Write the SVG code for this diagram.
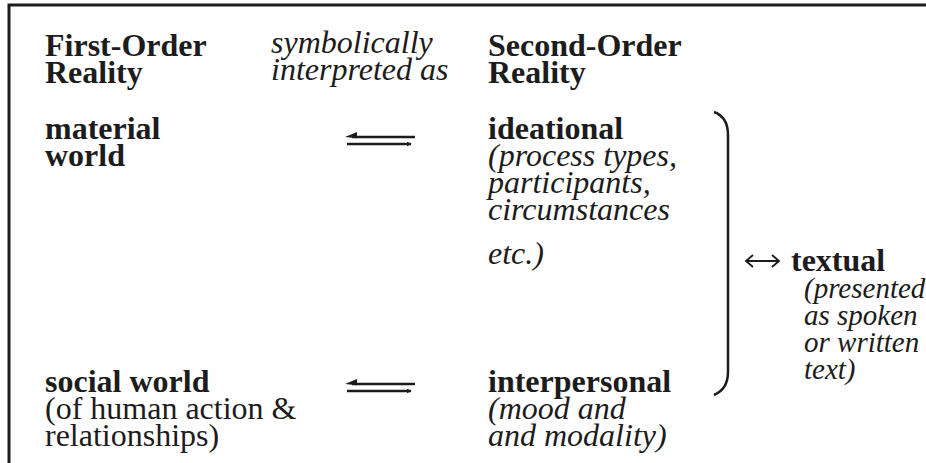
<svg xmlns="http://www.w3.org/2000/svg" width="926" height="463" viewBox="0 0 926 463">
<style>
text{font-family:"Liberation Serif","Times New Roman",serif;font-size:32px;fill:#1c1c1c}
.b{font-weight:bold}
.i{font-style:italic}
.s{font-size:29px}
.ln{stroke:#1c1c1c;fill:none}
</style>
<defs>
<marker id="ah" viewBox="0 0 10 10" refX="9" refY="5" markerWidth="5" markerHeight="5" orient="auto-start-reverse" markerUnits="userSpaceOnUse">
<path d="M0,0 L10,5 L0,10 z" fill="#1c1c1c"/>
</marker>
</defs>
<rect width="926" height="463" fill="#fff"/>
<g id="frame">
<path class="ln" d="M9,463 V5 H926" stroke-width="3"/>
</g>
<g id="headers">
<text class="b" x="45" y="56">First-Order</text>
<text class="b" x="45" y="83">Reality</text>
<text class="i" x="271" y="53">symbolically</text>
<text class="i" x="271" y="80">interpreted as</text>
<text class="b" x="488" y="56">Second-Order</text>
<text class="b" x="488" y="83">Reality</text>
</g>
<g id="material">
<text class="b" x="45" y="139">material</text>
<text class="b" x="45" y="166">world</text>
</g>
<g id="ideational">
<text class="b" x="488" y="139">ideational</text>
<text class="i" x="488" y="166">(process types,</text>
<text class="i" x="488" y="193">participants,</text>
<text class="i" x="488" y="220">circumstances</text>
<text class="i" x="488" y="264">etc.)</text>
</g>
<g id="social">
<text class="b" x="45" y="392">social world</text>
<text x="45" y="419">(of human action &amp;</text>
<text x="45" y="446">relationships)</text>
</g>
<g id="interpersonal">
<text class="b" x="488" y="392">interpersonal</text>
<text class="i" x="488" y="419">(mood and</text>
<text class="i" x="488" y="446">and modality)</text>
</g>
<g id="textual">
<text class="b" x="791" y="271">textual</text>
<text class="i s" x="804" y="298">(presented</text>
<text class="i s" x="804" y="325">as spoken</text>
<text class="i s" x="804" y="352">or written</text>
<text class="i s" x="804" y="379">text)</text>
</g>
<g id="connectors">
<path class="ln" stroke-width="2.5" d="M352,137 H415"/>
<path d="M345,137 L357,132 L357,138.2 Z" fill="#1c1c1c"/>
<path class="ln" stroke-width="2.5" d="M347,144 H411" marker-end="url(#ah)"/>
<path class="ln" stroke-width="2.5" d="M352,384 H415"/>
<path d="M345,384 L357,379 L357,385.2 Z" fill="#1c1c1c"/>
<path class="ln" stroke-width="2.5" d="M347,391 H411" marker-end="url(#ah)"/>
<path class="ln" stroke-width="2.5" d="M714,112 Q728,117 728,135 V372 Q728,389 714,395"/>
<path class="ln" stroke-width="1.8" d="M746,261 H779 M753,255 L746,261 L753,267 M772,255 L779,261 L772,267"/>
</g>
</svg>
